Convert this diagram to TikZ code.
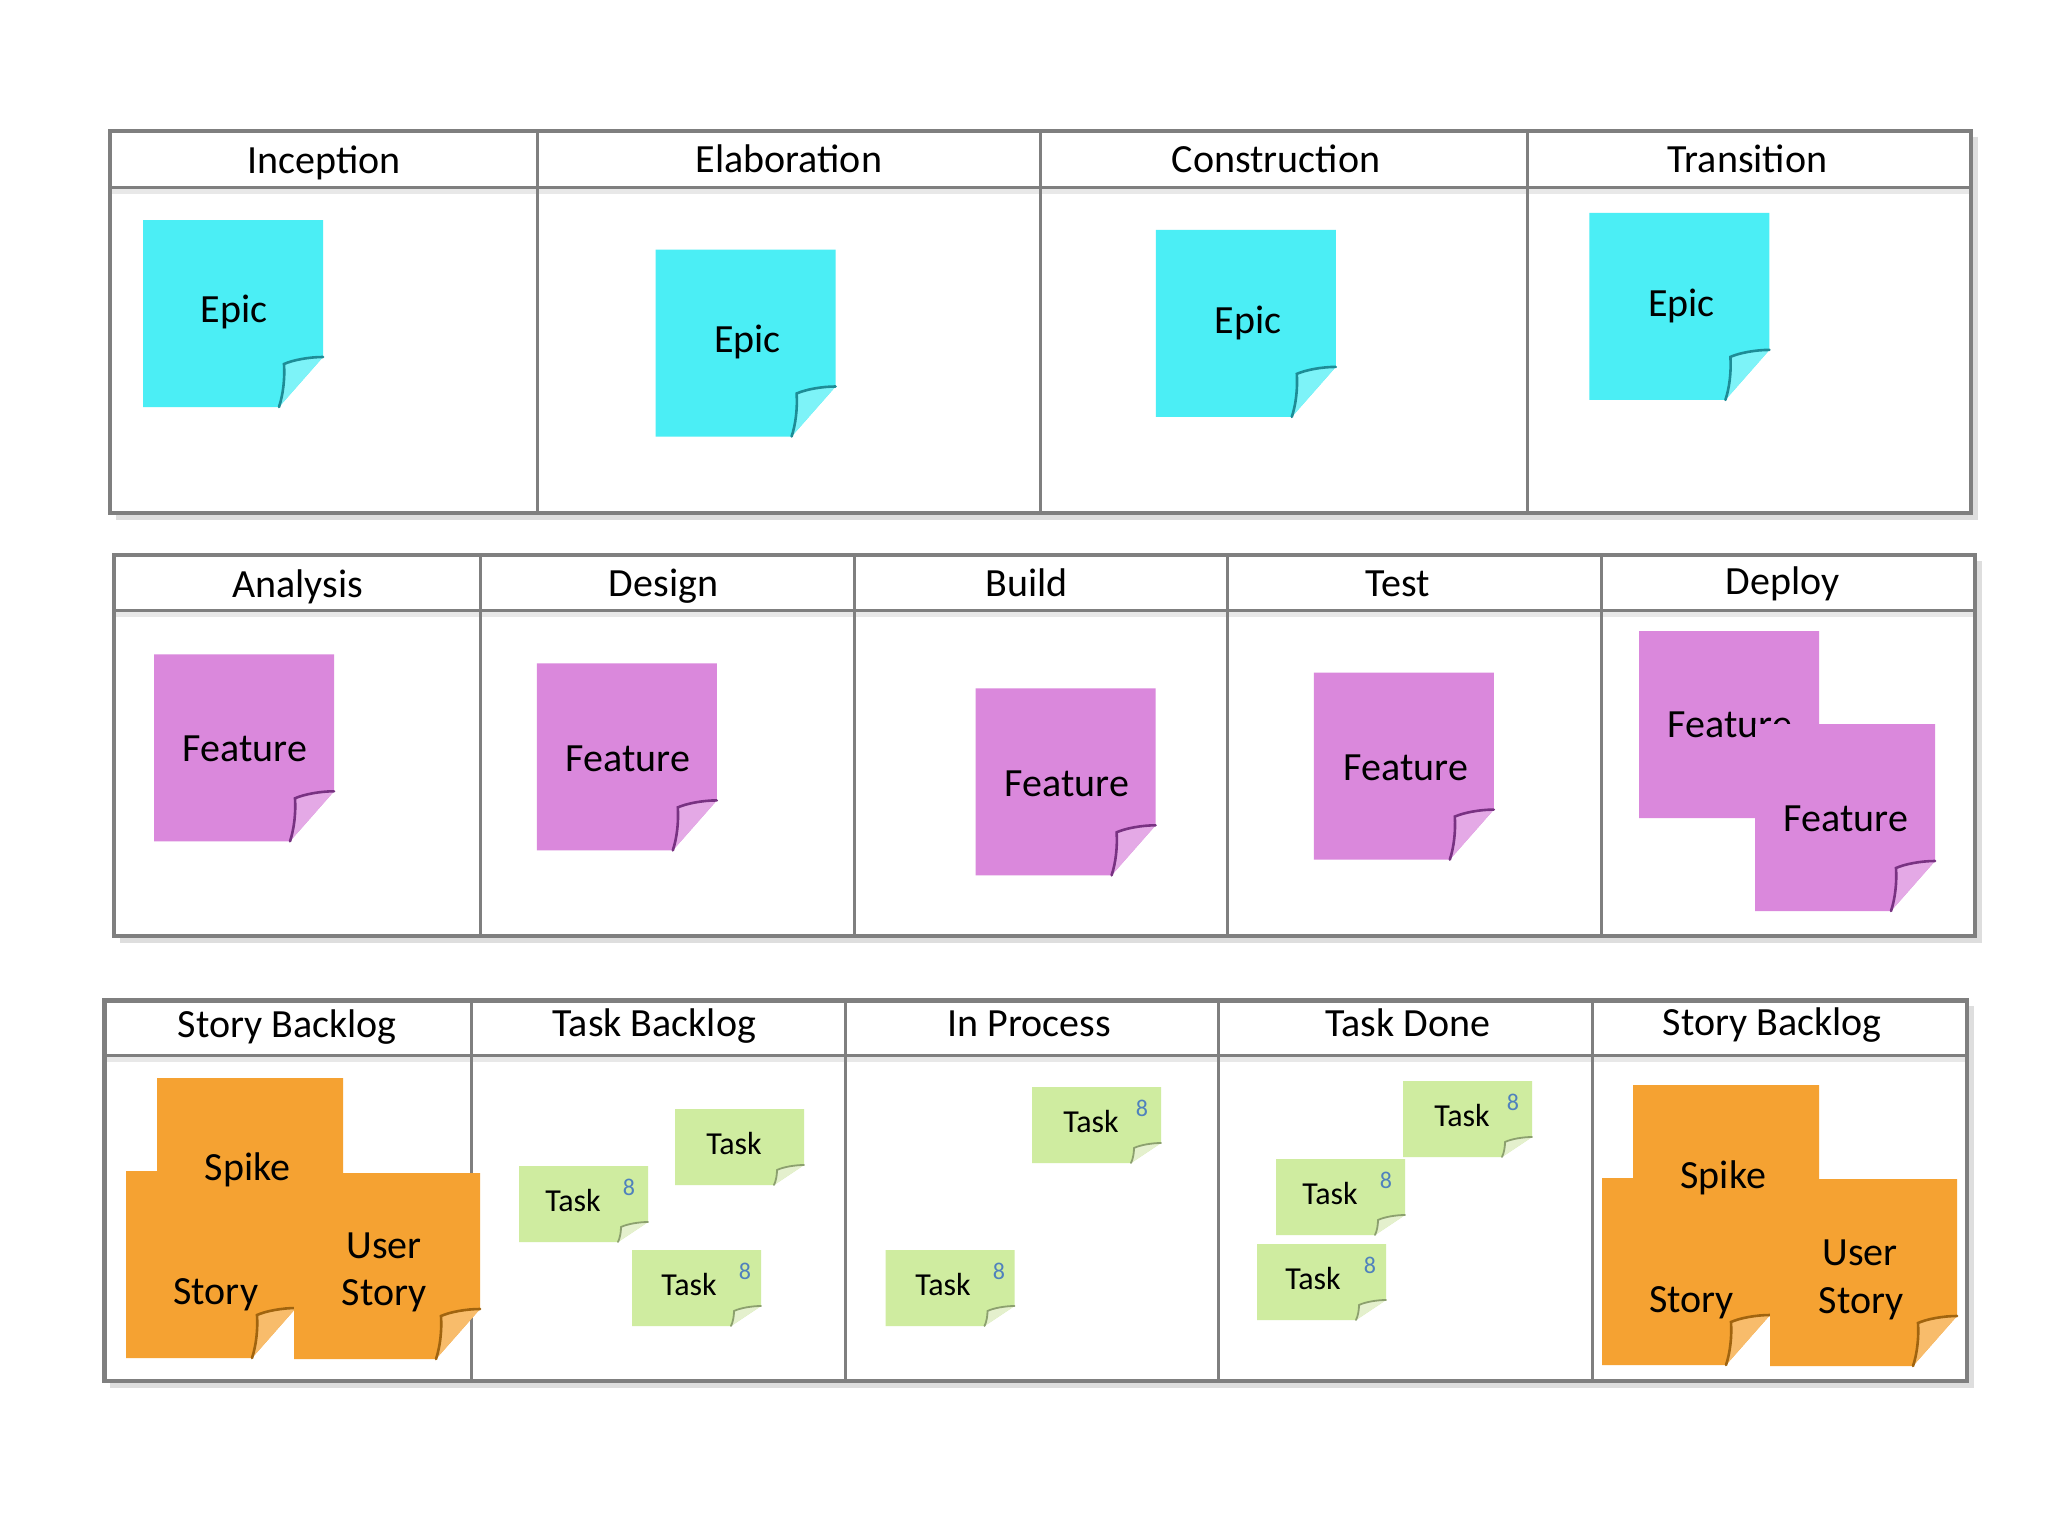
\documentclass[tikz,border=0pt]{standalone}
\usepackage{fontspec}
\setmainfont{Carlito}
\definecolor{linegray}{RGB}{127,127,127}
\definecolor{shadowgray}{RGB}{222,222,222}
\definecolor{epiccol}{RGB}{75,238,245}
\definecolor{epicedge}{RGB}{30,140,150}
\definecolor{featcol}{RGB}{218,136,220}
\definecolor{featedge}{RGB}{120,50,130}
\definecolor{storycol}{RGB}{245,162,50}
\definecolor{storyedge}{RGB}{160,100,15}
\definecolor{taskcol}{RGB}{207,236,160}
\definecolor{taskfold}{RGB}{228,240,205}
\definecolor{taskedge}{RGB}{140,160,110}
\definecolor{pointblue}{RGB}{79,129,189}
\tikzset{
  gridline/.style={draw=linegray, line width=3pt},
  outerline/.style={draw=linegray, line width=4.5pt},
  shadowline/.style={draw=shadowgray, line width=5pt},
  headshadow/.style={draw=shadowgray!70!white, line width=5pt},
  headtext/.style={font=\fontsize{40}{48}\selectfont, anchor=base, inner sep=0pt},
  notetext/.style={font=\fontsize{40}{48}\selectfont, anchor=base, inner sep=0pt},
  tasktext/.style={font=\fontsize{32}{38}\selectfont, anchor=base, inner sep=0pt},
  pointtext/.style={font=\fontsize{24}{28}\selectfont, text=pointblue, anchor=base, inner sep=0pt},
}
% big sticky note: #1 x, #2 y (top-left), #3 w, #4 h, #5 fill, #6 fold edge
\newcommand{\bignote}[6]{%
\begin{scope}[shift={(#1,#2)}]
 \fill[#5] (0,0) -- (#3,0) -- (#3,{#4-50}) -- ({#3-44},#4) -- (0,#4) -- cycle;
 \fill[#5!72!white] (#3,{#4-50}) .. controls ({#3-14},{#4-50}) and ({#3-30},{#4-47}) .. ({#3-39},{#4-43}) .. controls ({#3-38},{#4-28}) and ({#3-40},{#4-12}) .. ({#3-44},#4) -- cycle;
 \draw[#6, line width=2.6pt, line cap=round] (#3,{#4-50}) .. controls ({#3-14},{#4-50}) and ({#3-30},{#4-47}) .. ({#3-39},{#4-43}) .. controls ({#3-38},{#4-28}) and ({#3-40},{#4-12}) .. ({#3-44},#4);
\end{scope}}
% task note: #1 x, #2 y (top-left)
\newcommand{\tasknote}[2]{%
\begin{scope}[shift={(#1,#2)}]
 \fill[taskcol] (0,0) -- (129,0) -- (129,56) -- (99,76) -- (0,76) -- cycle;
 \fill[taskfold] (129,56) .. controls (120,56) and (108,58) .. (102,61) .. controls (102,66) and (101,72) .. (99,76) -- cycle;
 \draw[taskedge, line width=1.8pt, line cap=round] (129,56) .. controls (120,56) and (108,58) .. (102,61) .. controls (102,66) and (101,72) .. (99,76);
\end{scope}}
\begin{document}
\begin{tikzpicture}[x=1pt,y=-1pt]
\useasboundingbox[fill=white] (0,0) rectangle (2048,1536);

% ---------- Table 1 ----------
\draw[shadowline] (1975,137) -- (1975,517) -- (116,517);
\draw[headshadow] (110,191) -- (1971,191);
\draw[gridline] (110,187) -- (1971,187);
\foreach \cx in {537,1040,1527} \draw[gridline] (\cx,131) -- (\cx,513);
\draw[outerline] (110,131) rectangle (1971,513);
\node[headtext] (h11) at (323.9,173) {Inception};
\node[headtext] (h12) at (788.9,172) {Elaboration};
\node[headtext] (h13) at (1276,172) {Construction};
\node[headtext] (h14) at (1747.5,172) {Transition};

% ---------- Table 2 ----------
\draw[shadowline] (1979,561) -- (1979,940) -- (120,940);
\draw[headshadow] (114,614.5) -- (1975,614.5);
\draw[gridline] (114,610.5) -- (1975,610.5);
\foreach \cx in {480.7,854,1227.8,1601.3} \draw[gridline] (\cx,555) -- (\cx,936);
\draw[outerline] (114,555) rectangle (1975,936);
\node[headtext] (h21) at (297.8,597) {Analysis};
\node[headtext] (h22) at (663.5,596) {Design};
\node[headtext] (h23) at (1026.6,596) {Build};
\node[headtext] (h24) at (1397.5,596) {Test};
\node[headtext] (h25) at (1782.8,594) {Deploy};

% ---------- Table 3 ----------
\draw[shadowline] (1971,1006) -- (1971,1385) -- (110,1385);
\draw[headshadow] (104.5,1059) -- (1967,1059);
\draw[gridline] (104.5,1055) -- (1967,1055);
\foreach \cx in {471.5,845,1218.6,1592} \draw[gridline] (\cx,1000.5) -- (\cx,1381);
\draw[outerline] (104.5,1000.5) rectangle (1967,1381);
\node[headtext] (h31) at (287.3,1037) {Story Backlog};
\node[headtext] (h32) at (654.3,1036) {Task Backlog};
\node[headtext] (h33) at (1029.2,1036) {In Process};
\node[headtext] (h34) at (1407.9,1036) {Task Done};
\node[headtext] (h35) at (1772.3,1035) {Story Backlog};

% ---------- Epics ----------
\bignote{143}{220}{180}{187}{epiccol}{epicedge}
\bignote{655.6}{249.5}{180}{187}{epiccol}{epicedge}
\bignote{1155.8}{229.9}{180}{187}{epiccol}{epicedge}
\bignote{1589.4}{212.9}{180}{187}{epiccol}{epicedge}
\node[notetext] (e1) at (234,322) {Epic};
\node[notetext] (e2) at (747.6,352.5) {Epic};
\node[notetext] (e3) at (1247.8,333) {Epic};
\node[notetext] (e4) at (1681.4,316) {Epic};

% ---------- Features ----------
\bignote{154}{654.3}{180}{187}{featcol}{featedge}
\bignote{536.8}{663.4}{180}{187}{featcol}{featedge}
\bignote{975.6}{688.3}{180}{187}{featcol}{featedge}
\bignote{1313.8}{672.6}{180}{187}{featcol}{featedge}
\bignote{1639}{631}{180}{187}{featcol}{featedge}
\node[notetext] (f5) at (1730,737) {Feature};
\bignote{1755}{724}{180}{187}{featcol}{featedge}
\node[notetext] (f1) at (245,761) {Feature};
\node[notetext] (f2) at (628,771) {Feature};
\node[notetext] (f3) at (1067,796) {Feature};
\node[notetext] (f4) at (1406,780) {Feature};
\node[notetext] (f6) at (1846,831) {Feature};

% ---------- Stories (left) ----------
\bignote{126}{1171}{170}{187}{storycol}{storyedge}
\bignote{157}{1078}{186}{184}{storycol}{storyedge}
\bignote{294}{1173}{186}{186}{storycol}{storyedge}
\node[notetext] (s1) at (247.5,1180) {Spike};
\node[notetext] (s2) at (215.8,1304) {Story};
\node[notetext] (s3) at (384,1258) {User};
\node[notetext] (s4) at (384,1305) {Story};

% ---------- Stories (right) ----------
\bignote{1602}{1178}{168}{187}{storycol}{storyedge}
\bignote{1633}{1085}{186}{184}{storycol}{storyedge}
\bignote{1770}{1179}{187}{187}{storycol}{storyedge}
\node[notetext] (s5) at (1723.3,1188) {Spike};
\node[notetext] (s6) at (1691.7,1312) {Story};
\node[notetext] (s7) at (1860,1265) {User};
\node[notetext] (s8) at (1861,1313) {Story};

% ---------- Tasks ----------
\tasknote{675}{1109}
\tasknote{519}{1166}
\tasknote{632}{1250}
\tasknote{1032}{1087}
\tasknote{885.5}{1250}
\tasknote{1403}{1081}
\tasknote{1276}{1159}
\tasknote{1257}{1244}
\node[tasktext] (t1) at (734,1154) {Task};
\node[tasktext] (t2) at (573,1211) {Task};
\node[pointtext] (p2) at (629,1195) {8};
\node[tasktext] (t3) at (689,1295) {Task};
\node[pointtext] (p3) at (745,1279) {8};
\node[tasktext] (t4) at (1091,1132) {Task};
\node[pointtext] (p4) at (1142,1116) {8};
\node[tasktext] (t5) at (943,1295) {Task};
\node[pointtext] (p5) at (999,1279) {8};
\node[tasktext] (t6) at (1462,1126) {Task};
\node[pointtext] (p6) at (1513,1110) {8};
\node[tasktext] (t7) at (1330,1204) {Task};
\node[pointtext] (p7) at (1386,1188) {8};
\node[tasktext] (t8) at (1313,1289) {Task};
\node[pointtext] (p8) at (1370,1273) {8};
\end{tikzpicture}
\end{document}
